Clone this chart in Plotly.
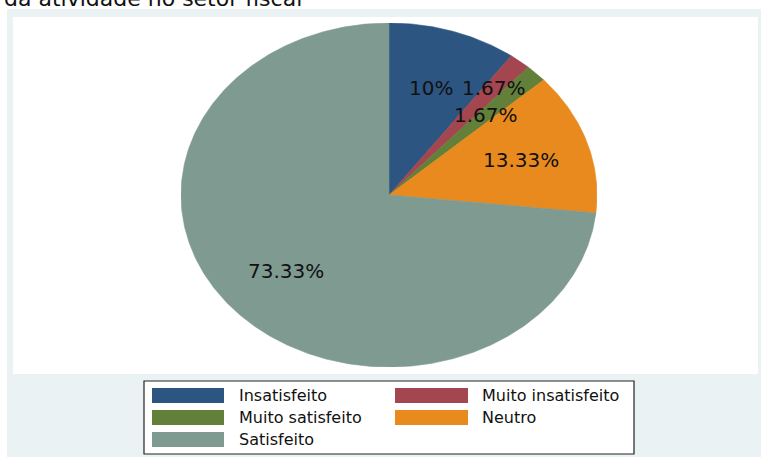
import numpy as np
import plotly.graph_objects as go

# Survey answers and their shares (%)
categories = ["Insatisfeito", "Muito insatisfeito", "Muito satisfeito", "Neutro", "Satisfeito"]
shares = [10, 1.67, 1.67, 13.33, 73.33]
title_text = "da atividade no setor fiscal"

# Styling
colors = ["#2C5582", "#A3464F", "#62803A", "#E88A1D", "#7E9A91"]
label_radius = [0.655, 0.80, 0.662, 0.667, 0.664]
FONT = "DejaVu Sans"
W, H = 761, 457


def px(x):
    return x / W


def py(y):
    return 1 - y / H


fig = go.Figure()

# Slices go clockwise from 12 o'clock, in unit-circle coordinates; the axes
# domain stretches the unit circle to the pie's ellipse.
total = sum(shares)
start = 90.0
annotations = []
for name, val, col, lr in zip(categories, shares, colors, label_radius):
    sweep = 360.0 * val / total
    end = start - sweep
    th = np.radians(np.linspace(start, end, max(int(sweep * 2), 8)))
    xs = np.concatenate([[0.0], np.cos(th), [0.0]])
    ys = np.concatenate([[0.0], np.sin(th), [0.0]])
    fig.add_trace(go.Scatter(
        x=xs, y=ys, mode="lines", fill="toself", fillcolor=col,
        line=dict(color=col, width=0.6), name=name, showlegend=False,
        hoveron="fills", hoverinfo="name",
    ))
    mid = np.radians((start + end) / 2)
    annotations.append(dict(
        x=lr * np.cos(mid), y=lr * np.sin(mid), xref="x", yref="y",
        text=f"{val:g}%", showarrow=False,
        font=dict(family=FONT, size=20, color="#111111"),
    ))
    start = end

shapes = [
    # outer graph region
    dict(type="rect", xref="paper", yref="paper", x0=px(7), x1=1, y0=0, y1=py(9),
         fillcolor="#EAF2F3", line=dict(width=0), layer="below"),
    # plot region
    dict(type="rect", xref="paper", yref="paper", x0=px(13), x1=px(758), y0=py(374), y1=py(17),
         fillcolor="#FFFFFF", line=dict(width=0), layer="below"),
    # legend box
    dict(type="rect", xref="paper", yref="paper", x0=px(144), x1=px(634), y0=py(454), y1=py(381),
         fillcolor="#FFFFFF", line=dict(color="#222222", width=1.2), layer="below"),
]

# Legend: two columns of wide colour keys
key_cols = [(152, 224, 237), (395, 468, 480)]
row_y = [395.5, 417.5, 439.5]
for i, (name, col) in enumerate(zip(categories, colors)):
    kx0, kx1, tx = key_cols[i % 2]
    cy = row_y[i // 2]
    shapes.append(dict(type="rect", xref="paper", yref="paper",
                       x0=px(kx0), x1=px(kx1), y0=py(cy + 7.5), y1=py(cy - 7.5),
                       fillcolor=col, line=dict(width=0)))
    annotations.append(dict(x=px(tx), y=py(cy), xref="paper", yref="paper",
                            xanchor="left", yanchor="middle", text=name, showarrow=False,
                            font=dict(family=FONT, size=16, color="#111111")))

annotations.append(dict(x=px(2), y=py(-2), xref="paper", yref="paper",
                        xanchor="left", yanchor="middle", text=title_text, showarrow=False,
                        font=dict(family=FONT, size=22, color="#111111")))

fig.update_layout(
    width=W, height=H,
    margin=dict(l=0, r=0, t=0, b=0),
    paper_bgcolor="#FFFFFF", plot_bgcolor="rgba(0,0,0,0)",
    xaxis=dict(domain=[px(181), px(597)], range=[-1, 1], visible=False, fixedrange=True),
    yaxis=dict(domain=[py(367), py(23)], range=[-1, 1], visible=False, fixedrange=True),
    shapes=shapes, annotations=annotations, showlegend=False,
)

fig.write_html("out.html")
